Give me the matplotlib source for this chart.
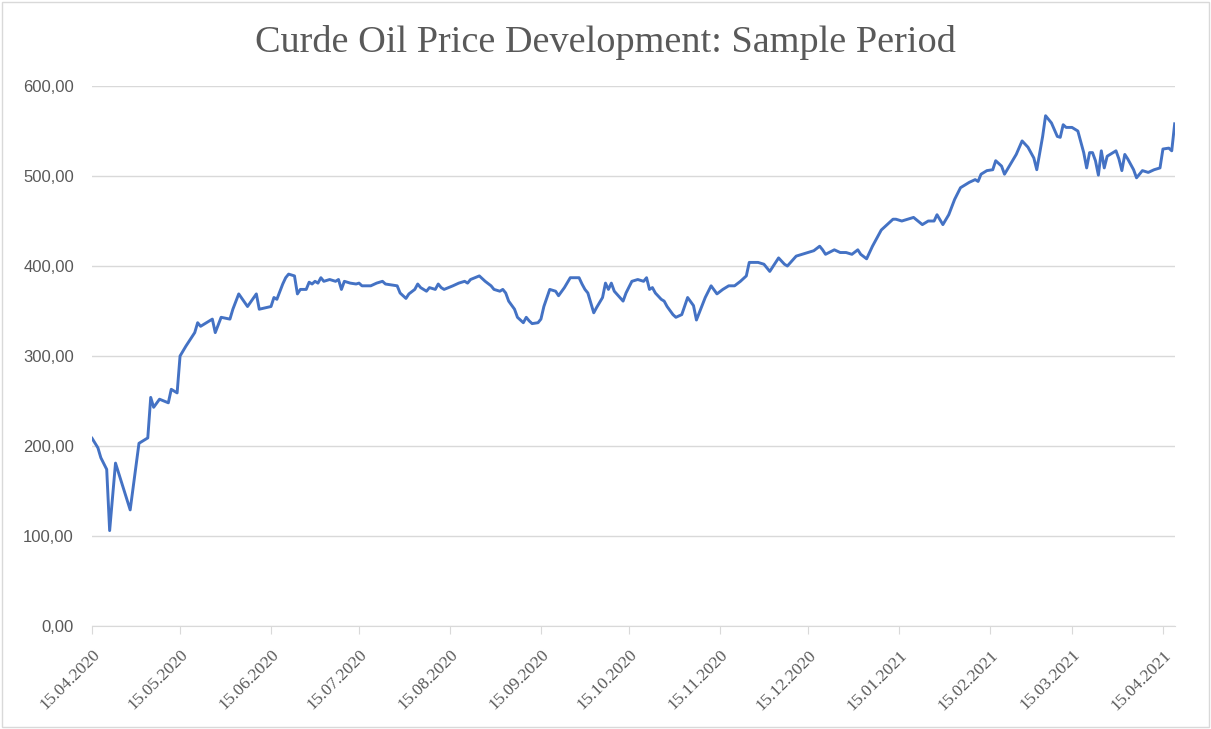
import numpy as np
import pandas as pd
import matplotlib
matplotlib.use("Agg")
import matplotlib.pyplot as plt
import matplotlib.dates as mdates
from matplotlib.patches import Rectangle

# tanggal awal sampel, sisanya pakai offset hari
tgl_awal = "2020-04-15"

# offset hari dari 15.04.2020
hari = [0, 2, 3, 5, 6, 8, 13, 16, 19, 20, 21, 23, 26, 27, 29, 30, 32, 35, 36, 37,
        41, 42, 44, 47, 48, 50, 53, 56, 57, 61, 62, 63, 65, 66, 67, 69, 70, 71, 73, 74,
        75, 76, 77, 78, 79, 81, 83, 84, 85, 86, 88, 90, 91, 92, 95, 97, 99, 100, 104, 105,
        107, 108, 110, 111, 112, 114, 115, 117, 118, 119, 120, 123, 125, 127, 128, 129, 132, 134, 136, 137,
        139, 140, 141, 142, 144, 145, 147, 148, 149, 150, 152, 153, 154, 156, 158, 159, 161, 163, 166, 167,
        168, 169, 171, 172, 174, 175, 176, 177, 178, 181, 182, 184, 186, 188, 189, 190, 191, 192, 194, 195,
        196, 198, 199, 201, 203, 205, 206, 209, 211, 213, 215, 217, 219, 221, 223, 224, 227, 229, 231, 234,
        236, 237, 240, 242, 244, 246, 248, 249, 250, 253, 255, 257, 259, 261, 262, 264, 266, 269, 271, 273,
        274, 276, 278, 280, 283, 285, 287, 288, 290, 292, 294, 296, 299, 301, 302, 303, 305, 307, 308, 310,
        311, 313, 315, 317, 319, 321, 322, 324, 325, 327, 329, 330, 331, 332, 334, 336, 338, 339, 340, 341,
        342, 343, 344, 345, 346, 348, 349, 350, 351, 352, 353, 355, 356, 358, 360, 362, 364, 365, 367, 368,
        369]

harga = [208.6, 198, 187, 174, 106, 181, 129, 203, 209, 254, 243, 252, 248, 263, 259, 300, 311, 326, 337, 333,
         341, 326, 343, 341, 352, 369, 355, 369, 352, 355, 365, 363, 380, 387, 391, 389, 369, 374, 374, 382,
         380, 383, 381, 387, 383, 385, 383, 385, 374, 383, 381, 380, 381, 378, 378, 381, 383, 380, 378, 370,
         364, 369, 374, 380, 376, 372, 376, 374, 380, 376, 374, 378, 381, 383, 381, 385, 389, 383, 378, 374,
         372, 374, 370, 361, 352, 343, 337, 343, 339, 336, 337, 341, 355, 374, 372, 367, 376, 387, 387, 380,
         374, 370, 348, 354, 365, 381, 374, 381, 372, 361, 370, 383, 385, 383, 387, 374, 376, 370, 363, 361,
         355, 346, 343, 346, 365, 356, 340, 365, 378, 369, 374, 378, 378, 383, 389, 404, 404, 402, 394, 409,
         402, 400, 411, 413, 415, 417, 422, 418, 413, 418, 415, 415, 413, 418, 413, 408, 422, 440, 446, 452,
         452, 450, 452, 454, 446, 450, 450, 457, 446, 457, 474, 487, 493, 496, 494, 502, 506, 507, 517, 511,
         502, 513, 524, 539, 532, 520, 507, 544, 567, 559, 544, 543, 557, 554, 554, 550, 526, 509, 526, 526,
         517, 501, 528, 509, 522, 526, 528, 519, 506, 524, 519, 507, 498, 506, 504, 507, 509, 530, 531, 528,
         558]

judul = "Curde Oil Price Development: Sample Period"
y_ticks = [0, 100, 200, 300, 400, 500, 600]

tanggal = pd.Timestamp(tgl_awal) + pd.to_timedelta(hari, unit="D")

warna_teks = "#595959"
warna_grid = "#D9D9D9"
plt.rcParams["font.family"] = ["Liberation Serif", "DejaVu Serif"]

fig = plt.figure(figsize=(12.11, 7.29), dpi=100)
ax = fig.add_axes([0.076, 0.1413, 0.894, 0.7407])

ax.plot(tanggal, harga, color="#4472C4", linewidth=2.1, solid_joinstyle="round")

# sumbu y, label pakai font sans
ax.set_ylim(0, 600)
ax.set_yticks(y_ticks)
ax.set_yticklabels([f"{v:.2f}".replace(".", ",") for v in y_ticks],
                   fontfamily=["Liberation Sans", "DejaVu Sans"])
ax.yaxis.grid(True, color=warna_grid, linewidth=1.0)
ax.tick_params(axis="y", length=0, pad=13, labelsize=12, labelcolor=warna_teks)

# sumbu x, tick tiap tanggal 15
mulai = pd.Timestamp(tgl_awal)
ax.set_xlim(mulai, mulai + pd.Timedelta(days=369))
ax.xaxis.set_major_locator(mdates.MonthLocator(bymonthday=15))
ax.xaxis.set_major_formatter(mdates.DateFormatter("%d.%m.%Y"))
ax.tick_params(axis="x", length=6, color=warna_grid, labelsize=12.5, labelcolor=warna_teks, pad=9)
for lbl in ax.get_xticklabels():
    lbl.set_rotation(45)
    lbl.set_ha("right")
    lbl.set_rotation_mode("anchor")

for s in ["top", "right", "left"]:
    ax.spines[s].set_visible(False)
ax.spines["bottom"].set_color(warna_grid)
ax.set_axisbelow(True)

fig.text(0.5, 0.942, judul, ha="center", va="center", fontsize=27.5, color=warna_teks)

# bingkai luar ala excel
fig.patches.append(Rectangle((0.002, 0.003), 0.996, 0.994, transform=fig.transFigure,
                             fill=False, edgecolor=warna_grid, linewidth=1.0))

fig.savefig("out.png", dpi=100)
